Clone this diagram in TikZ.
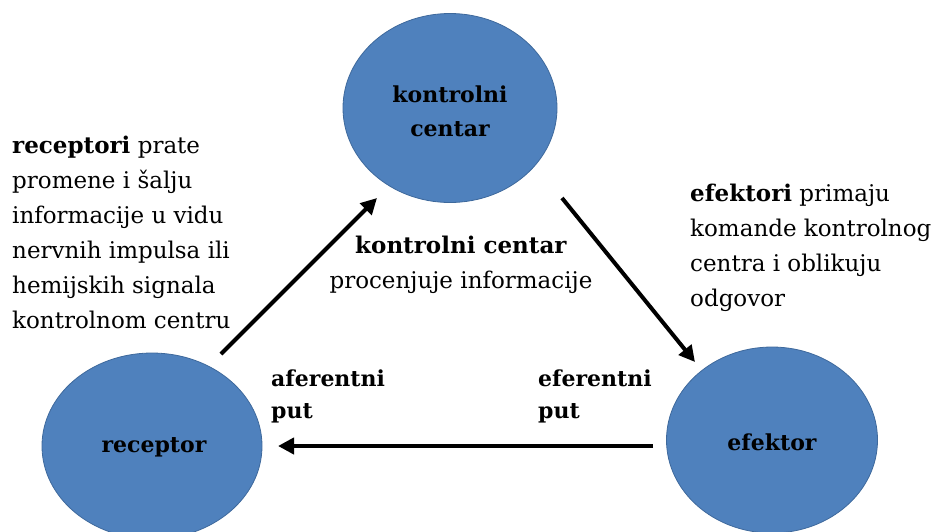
\documentclass[tikz,border=0pt]{standalone}
\usepackage{fontspec}
\setmainfont{DejaVu Serif}
\usetikzlibrary{arrows.meta}
\usetikzlibrary{shapes.geometric}
\definecolor{ovalblue}{RGB}{79,129,189}
\definecolor{ovalline}{RGB}{62,105,156}
\tikzset{
  oval/.style={ellipse, fill=ovalblue, draw=ovalline, line width=0.8pt, inner sep=0pt},
  arr/.style={line width=4pt, -{Triangle[length=16pt,width=16pt]}},
  txt/.style={font=\fontsize{23}{35}\selectfont, align=left, inner sep=0pt},
  lbl/.style={font=\fontsize{22}{34}\selectfont\bfseries, align=center, inner sep=0pt},
  pth/.style={font=\fontsize{22}{32}\selectfont\bfseries, align=left, inner sep=0pt}
}
\begin{document}
\begin{tikzpicture}[x=1pt,y=-1pt]
\useasboundingbox (0,0) rectangle (934,531);
% ovals
\node[oval, minimum width=214pt, minimum height=189pt] (kc) at (450,108) {};
\node[oval, minimum width=220pt, minimum height=186pt] (rec) at (152,446) {};
\node[oval, minimum width=211pt, minimum height=186pt] (ef) at (772,440) {};
\node[lbl] (kct) at (450,111) {kontrolni\\centar};
\node[lbl] (rect) at (154,447) {receptor};
\node[lbl] (eft) at (772,442) {efektor};
% arrow anchors
\coordinate (a1) at (221,354);
\coordinate (a2) at (377,198);
\coordinate (b1) at (562,198);
\coordinate (b2) at (695,362);
\coordinate (c1) at (653,446);
\coordinate (c2) at (278,446);
\draw[arr] (a1) -- (a2);
\draw[arr] (b1) -- (b2);
\draw[arr] (c1) -- (c2);
% texts
\node[txt, anchor=north west] (rtxt) at (12,136) {\textbf{receptori} prate\\promene i šalju\\informacije u vidu\\nervnih impulsa ili\\hemijskih signala\\kontrolnom centru};
\node[txt, anchor=north west] (etxt) at (690,184) {\textbf{efektori} primaju\\komande kontrolnog\\centra i oblikuju\\odgovor};
\node[txt, align=center] (ktxt) at (461,265) {\textbf{kontrolni centar}\\procenjuje informacije};
\node[pth, anchor=north west] (aff) at (271,370) {aferentni\\put};
\node[pth, anchor=north west] (eff) at (538,370) {eferentni\\put};
\end{tikzpicture}
\end{document}
